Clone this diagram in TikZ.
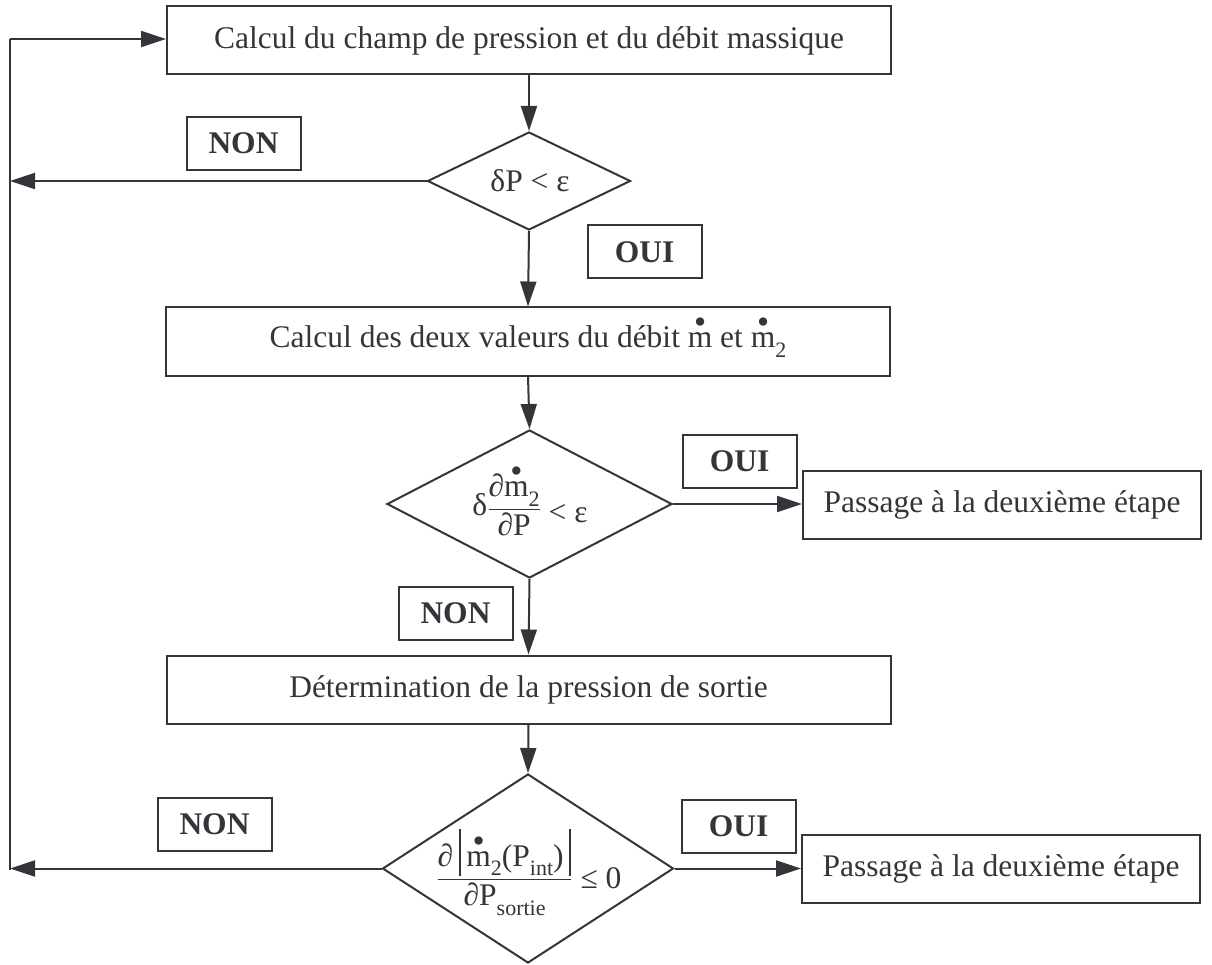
\documentclass[tikz,border=0pt]{standalone}
\usepackage{amsmath}
\usepackage{fontspec}
\setmainfont{Liberation Serif}
\usepackage{graphicx}
\usetikzlibrary{shapes.geometric,arrows.meta}
\definecolor{ink}{RGB}{52,52,58}
\newcommand\mainsz{\fontsize{31.5}{38}\selectfont}
\newcommand\mdt{\ooalign{m\cr\hfil\raisebox{0.45em}{\scalebox{1.1}{•}}\hfil\cr}}
\newcommand\sbs[1]{\raisebox{-0.3em}{\fontsize{22}{24}\selectfont #1}}
\newcommand\absbar{\vrule width 2.6pt height 1.2em depth 0.3em}
\begin{document}
\begin{tikzpicture}[x=1pt,y=-1pt,color=ink,line width=2pt,
  bigbox/.style={draw,rectangle,minimum width=724pt,minimum height=68pt,inner sep=0pt,font=\mainsz},
  endbox/.style={draw,rectangle,minimum width=398pt,minimum height=68pt,inner sep=0pt,font=\mainsz},
  lab/.style={draw,rectangle,minimum width=114pt,minimum height=53pt,inner sep=0pt,font=\mainsz\bfseries},
  dia/.style={draw,diamond,inner sep=0pt},
  txt/.style={inner sep=0pt,font=\mainsz},
  arr/.style={-{Triangle[length=25pt,width=16pt]}}]
\useasboundingbox (0,0) rectangle (1212,965);

\node[bigbox] (b1) at (529,40.5) {Calcul du champ de pression et du débit massique};
\node[dia,minimum width=203pt,minimum height=98pt] (d1) at (529,181) {};
\node[txt] (d1t) at (530,181) {δP < ε};
\node[bigbox] (b2) at (528,341.5) {Calcul des deux valeurs du débit \mdt{} et \mdt\sbs{2}};
\node[dia,minimum width=285pt,minimum height=148pt] (d2) at (529.5,504) {};
\node[txt] (d2t) at (530,505) {δ$\dfrac{\text{∂\mdt\sbs{2}}}{\text{∂P}}\text{\raisebox{-0.22em}{ < ε}}$};
\node[bigbox] (b3) at (528.5,689.5) {Détermination de la pression de sortie};
\node[dia,minimum width=291pt,minimum height=189pt] (d3) at (528,868.5) {};
\node[txt] (d3t) at (529,872) {$\dfrac{\text{∂\,\absbar\,\mdt\sbs{2}(P\sbs{int})\,\absbar}}{\text{∂P\sbs{sortie}}}\text{\raisebox{-0.1em}{ ≤ 0}}$};
\node[endbox] (p1) at (1002,504.5) {Passage à la deuxième étape};
\node[endbox] (p2) at (1001,869) {Passage à la deuxième étape};

\node[lab] (non1) at (243.5,143.5) {NON};
\node[lab] (oui1) at (644.5,252) {OUI};
\node[lab] (oui2) at (739.5,461.5) {OUI};
\node[lab] (non2) at (455.5,613.5) {NON};
\node[lab] (non3) at (214.5,824) {NON};
\node[lab] (oui3) at (738.5,826) {OUI};

\coordinate (lt) at (10,39);
\coordinate (lm) at (10,181);
\coordinate (lb) at (10,870);

\draw[arr] (b1.south) -- (d1.north);
\draw[arr] (d1.south) -- (b2.north);
\draw[arr] (b2.south) -- (d2.north);
\draw[arr] (d2.south) -- (b3.north);
\draw[arr] (b3.south) -- (d3.north);
\draw[arr] (d2.east) -- (d2.east -| p1.west);
\draw[arr] (d3.east) -- (d3.east -| p2.west);
\draw[arr] (d1.west) -- (lm);
\draw[arr] (d3.west) -- (d3.west -| lb);
\draw (lb) -- (lt);
\draw[arr] (lt) -- (lt -| b1.west);
\end{tikzpicture}
\end{document}
